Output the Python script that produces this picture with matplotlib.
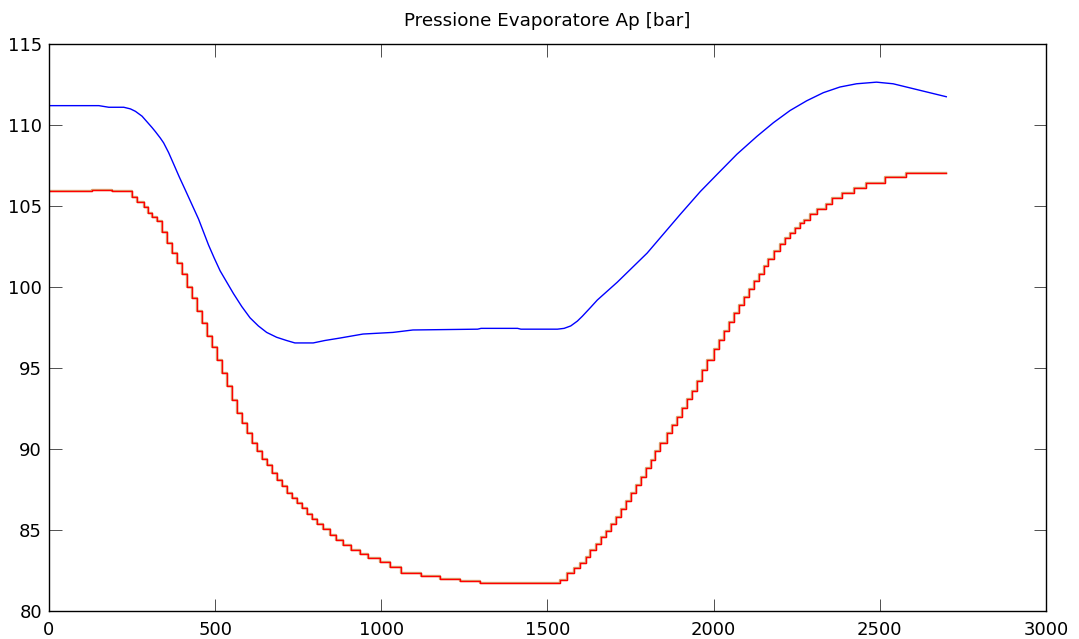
import numpy as np
import matplotlib
matplotlib.use("Agg")
import matplotlib.pyplot as plt

plt.rcParams["font.family"] = ["DejaVu Sans"]

# blue trace (smooth)
blue_t = [0, 150, 180, 225, 245, 260, 280, 295, 310, 320, 335, 345, 360, 375,
          392, 410, 430, 450, 465, 480, 497, 515, 535, 555, 580, 605, 630, 655,
          685, 715, 740, 795, 830, 875, 945, 1035, 1095, 1290, 1300, 1410, 1420,
          1530, 1550, 1570, 1590, 1605, 1630, 1650, 1680, 1710, 1755, 1800, 1850,
          1900, 1960, 2010, 2070, 2130, 2180, 2230, 2280, 2330, 2380, 2430, 2490,
          2540, 2580, 2640, 2700]
blue_v = [111.2, 111.2, 111.1, 111.1, 111.0, 110.85, 110.55, 110.2, 109.85,
          109.6, 109.2, 108.9, 108.3, 107.6, 106.8, 106.0, 105.1, 104.2, 103.4,
          102.6, 101.8, 101.0, 100.3, 99.6, 98.8, 98.1, 97.6, 97.2, 96.9, 96.7,
          96.55, 96.55, 96.7, 96.85, 97.1, 97.2, 97.35, 97.4, 97.45, 97.45, 97.4,
          97.4, 97.45, 97.6, 97.9, 98.2, 98.75, 99.2, 99.75, 100.3, 101.2, 102.1,
          103.3, 104.5, 105.9, 106.95, 108.2, 109.3, 110.15, 110.9, 111.5, 112.0,
          112.35, 112.55, 112.65, 112.55, 112.35, 112.05, 111.75]

# red / olive stair trace (quantised)
red_t = [0, 130, 190, 250, 265, 285, 298, 310, 324, 340, 355, 370, 385, 400,
         415, 430, 445, 460, 475, 490, 505, 520, 535, 550, 565, 580, 595, 610,
         625, 640, 655, 670, 686, 700, 715, 730, 746, 760, 775, 790, 806, 825,
         845, 865, 886, 910, 935, 960, 997, 1025, 1059, 1119, 1177, 1238, 1298,
         1539, 1560, 1580, 1599, 1615, 1629, 1645, 1660, 1675, 1690, 1705, 1720,
         1735, 1750, 1765, 1780, 1795, 1810, 1825, 1840, 1860, 1875, 1890, 1905,
         1920, 1935, 1950, 1965, 1980, 2000, 2015, 2030, 2045, 2060, 2075, 2090,
         2105, 2120, 2135, 2150, 2165, 2181, 2200, 2215, 2230, 2245, 2260, 2271,
         2290, 2310, 2337, 2357, 2387, 2422, 2457, 2517, 2578, 2698]
red_v = [105.9, 106.0, 105.9, 105.55, 105.25, 104.95, 104.6, 104.3, 104.1, 103.4,
         102.7, 102.1, 101.5, 100.8, 100.0, 99.3, 98.5, 97.8, 97.0, 96.3, 95.5,
         94.7, 93.9, 93.0, 92.2, 91.6, 91.0, 90.4, 89.9, 89.4, 89.0, 88.5, 88.1,
         87.7, 87.3, 87.0, 86.65, 86.35, 86.0, 85.7, 85.4, 85.05, 84.7, 84.4,
         84.07, 83.75, 83.5, 83.3, 83.05, 82.74, 82.35, 82.16, 81.95, 81.85,
         81.75, 81.91, 82.36, 82.65, 82.94, 83.35, 83.76, 84.15, 84.55, 84.95,
         85.35, 85.8, 86.3, 86.8, 87.3, 87.8, 88.3, 88.8, 89.35, 89.85, 90.35,
         90.96, 91.5, 92.0, 92.55, 93.1, 93.6, 94.2, 94.85, 95.5, 96.2, 96.75,
         97.3, 97.85, 98.4, 98.9, 99.4, 99.9, 100.35, 100.8, 101.3, 101.75,
         102.2, 102.65, 103.0, 103.35, 103.65, 103.95, 104.15, 104.5, 104.84,
         105.15, 105.52, 105.83, 106.13, 106.43, 106.8, 107.03, 107.03]

x_ticks = [0, 500, 1000, 1500, 2000, 2500, 3000]
y_ticks = [80, 85, 90, 95, 100, 105, 110, 115]

fig = plt.figure(figsize=(10.79, 6.39), dpi=100)
ax = fig.add_axes([0.0454, 0.0438, 0.9240, 0.8872])

ax.plot(red_t, red_v, color="#c4883e", lw=1.7, alpha=0.7, drawstyle="steps-post")
ax.plot(red_t, red_v, color="#ff0000", lw=1.0, drawstyle="steps-post")
ax.plot(blue_t, blue_v, color="#0000ff", lw=1.0)

ax.set_xlim(0, 3000)
ax.set_ylim(80, 115)
ax.set_xticks(x_ticks)
ax.set_yticks(y_ticks)
ax.tick_params(direction="in", length=9, width=0.6, top=True, right=True,
               labelsize=13, color="#333333")
ax.tick_params(axis="x", pad=7)
ax.tick_params(axis="y", pad=5)
for s in ax.spines.values():
    s.set_linewidth(1.0)
ax.set_title("Pressione Evaporatore Ap [bar]", fontsize=13.2, pad=13)

fig.savefig("out.png", dpi=100)
